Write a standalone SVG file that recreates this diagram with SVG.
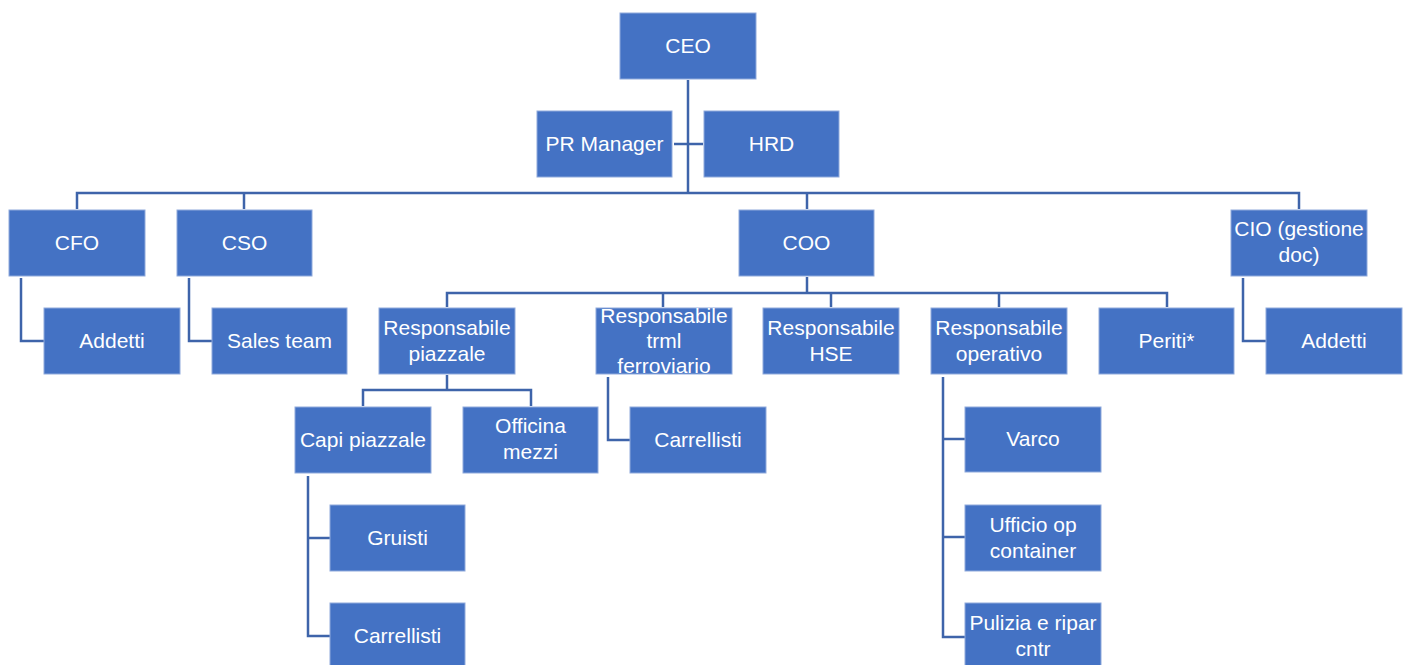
<svg xmlns="http://www.w3.org/2000/svg" width="1407" height="665" viewBox="0 0 1407 665">
<style>
.b{fill:#4472C4;stroke:#8FAADC;stroke-width:1}
.t{fill:#FFFFFF;font-family:"Liberation Sans",Arial,sans-serif;font-size:21px;text-anchor:middle}
.c{fill:none;stroke:#3E64AA;stroke-width:2.5}
</style>
<rect width="1407" height="665" fill="#FFFFFF"/>
<g id="connectors">
<path class="c" d="M688 80V193"/>
<path class="c" d="M674 144H703"/>
<path class="c" d="M77 209V193H1299V209"/>
<path class="c" d="M244 193V209"/>
<path class="c" d="M807 193V209"/>
<path class="c" d="M21 278V341H44"/>
<path class="c" d="M189 278V341H212"/>
<path class="c" d="M1243 278V341H1266"/>
<path class="c" d="M807 277V293"/>
<path class="c" d="M447 307V293H1167V307"/>
<path class="c" d="M663 293V307"/>
<path class="c" d="M831 293V307"/>
<path class="c" d="M999 293V307"/>
<path class="c" d="M447 375V390"/>
<path class="c" d="M363 406V390H531V406"/>
<path class="c" d="M608 377V440H630"/>
<path class="c" d="M308 476V636H330"/>
<path class="c" d="M308 538H330"/>
<path class="c" d="M943 377V637H965"/>
<path class="c" d="M943 439H965"/>
<path class="c" d="M943 537H965"/>
</g>
<g id="ceo"><rect class="b" x="620" y="13" width="136" height="66"/><text class="t" x="688" y="53">CEO</text></g>
<g id="pr"><rect class="b" x="537" y="111" width="135" height="66"/><text class="t" x="604.5" y="151">PR Manager</text></g>
<g id="hrd"><rect class="b" x="704" y="111" width="135" height="66"/><text class="t" x="771.5" y="151">HRD</text></g>
<g id="cfo"><rect class="b" x="9" y="210" width="136" height="66"/><text class="t" x="77" y="250">CFO</text></g>
<g id="cso"><rect class="b" x="177" y="210" width="135" height="66"/><text class="t" x="244.5" y="250">CSO</text></g>
<g id="coo"><rect class="b" x="739" y="210" width="135" height="66"/><text class="t" x="806.5" y="250">COO</text></g>
<g id="cio"><rect class="b" x="1231" y="210" width="136" height="66"/><text class="t" x="1299" y="236">CIO (gestione</text><text class="t" x="1299" y="262">doc)</text></g>
<g id="addetti1"><rect class="b" x="44" y="308" width="136" height="66"/><text class="t" x="112" y="348">Addetti</text></g>
<g id="sales"><rect class="b" x="212" y="308" width="135" height="66"/><text class="t" x="279.5" y="348">Sales team</text></g>
<g id="addetti2"><rect class="b" x="1266" y="308" width="136" height="66"/><text class="t" x="1334" y="348">Addetti</text></g>
<g id="piazzale"><rect class="b" x="379" y="308" width="136" height="66"/><text class="t" x="447" y="335">Responsabile</text><text class="t" x="447" y="361">piazzale</text></g>
<g id="trml"><rect class="b" x="596" y="308" width="136" height="66"/><text class="t" x="664" y="323">Responsabile</text><text class="t" x="664" y="348">trml</text><text class="t" x="664" y="373">ferroviario</text></g>
<g id="hse"><rect class="b" x="763" y="308" width="136" height="66"/><text class="t" x="831" y="335">Responsabile</text><text class="t" x="831" y="361">HSE</text></g>
<g id="operativo"><rect class="b" x="931" y="308" width="136" height="66"/><text class="t" x="999" y="335">Responsabile</text><text class="t" x="999" y="361">operativo</text></g>
<g id="periti"><rect class="b" x="1099" y="308" width="135" height="66"/><text class="t" x="1166.5" y="348">Periti*</text></g>
<g id="capi"><rect class="b" x="295" y="407" width="136" height="66"/><text class="t" x="363" y="447">Capi piazzale</text></g>
<g id="officina"><rect class="b" x="463" y="407" width="135" height="66"/><text class="t" x="530.5" y="433">Officina</text><text class="t" x="530.5" y="459">mezzi</text></g>
<g id="carrellisti1"><rect class="b" x="630" y="407" width="136" height="66"/><text class="t" x="698" y="447">Carrellisti</text></g>
<g id="varco"><rect class="b" x="965" y="407" width="136" height="65"/><text class="t" x="1033" y="446">Varco</text></g>
<g id="gruisti"><rect class="b" x="330" y="505" width="135" height="66"/><text class="t" x="397.5" y="545">Gruisti</text></g>
<g id="ufficio"><rect class="b" x="965" y="505" width="136" height="66"/><text class="t" x="1033" y="532">Ufficio op</text><text class="t" x="1033" y="558">container</text></g>
<g id="carrellisti2"><rect class="b" x="330" y="603" width="135" height="66"/><text class="t" x="397.5" y="643">Carrellisti</text></g>
<g id="pulizia"><rect class="b" x="965" y="603" width="136" height="66"/><text class="t" x="1033" y="630">Pulizia e ripar</text><text class="t" x="1033" y="656">cntr</text></g>
</svg>
